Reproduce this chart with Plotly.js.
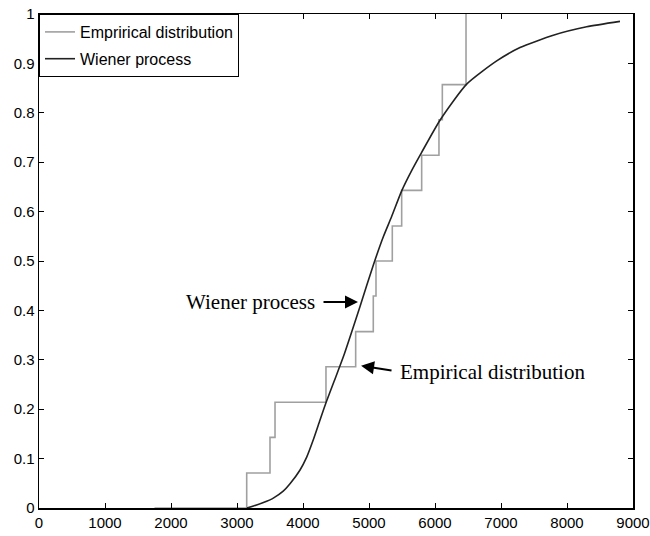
<!DOCTYPE html>
<html>
<head>
<meta charset="utf-8">
<script src="https://cdn.plot.ly/plotly-3.0.1.min.js"></script>
<style>html,body{margin:0;padding:0;background:#fff;}#chart{width:650px;height:536px;}</style>
</head>
<body>
<div id="chart"></div>
<script>
var empX = [1750, 3147, 3500, 3576, 4348, 4798, 5065, 5106, 5353, 5495, 5798, 6060, 6111, 6470];
var empY = [0, 0.071, 0.143, 0.214, 0.286, 0.357, 0.429, 0.5, 0.571, 0.643, 0.714, 0.786, 0.857, 1.0];
var wienerX = [3150, 3250, 3400, 3550, 3700, 3803, 3955, 4056, 4156, 4258, 4348, 4470, 4611, 4864, 5066, 5217, 5343, 5495, 5650, 5798, 6076, 6480, 6935, 7288, 7792, 8298, 8803];
var wienerY = [0, 0.004, 0.011, 0.02, 0.034, 0.049, 0.077, 0.103, 0.138, 0.178, 0.213, 0.256, 0.306, 0.408, 0.492, 0.549, 0.59, 0.642, 0.684, 0.72, 0.785, 0.858, 0.905, 0.932, 0.957, 0.974, 0.985];
var xTicks = [0, 1000, 2000, 3000, 4000, 5000, 6000, 7000, 8000, 9000];
var yTicks = [0, 0.1, 0.2, 0.3, 0.4, 0.5, 0.6, 0.7, 0.8, 0.9, 1];
var yTickText = ["0", "0.1", "0.2", "0.3", "0.4", "0.5", "0.6", "0.7", "0.8", "0.9", "1"];

var traces = [
  {x: empX, y: empY, mode: 'lines', line: {shape: 'hv', color: '#a0a0a0', width: 1.6}, name: 'Emprirical distribution', legendgroup: 'a'},
  {x: wienerX, y: wienerY, mode: 'lines', line: {shape: 'spline', smoothing: 0.6, color: '#222222', width: 1.6}, name: 'Wiener process', legendgroup: 'b'}
];
var axisCommon = {showgrid: false, zeroline: false, showline: true, linecolor: '#000', linewidth: 1.5, mirror: 'ticks', ticks: 'inside', ticklen: 5, tickcolor: '#000', tickfont: {family: 'Liberation Sans, Arial', size: 15, color: '#000'}};
var layout = {
  width: 650, height: 536,
  margin: {l: 39, r: 17, t: 14, b: 28},
  paper_bgcolor: '#fff', plot_bgcolor: '#fff',
  showlegend: true,
  legend: {x: 0, y: 1, xanchor: 'left', yanchor: 'top', bgcolor: '#fff', bordercolor: '#000', borderwidth: 1, font: {family: 'Liberation Sans, Arial', size: 16, color: '#000'}, tracegroupgap: 3},
  xaxis: Object.assign({}, axisCommon, {range: [0, 9000], tickvals: xTicks, ticktext: xTicks.map(String)}),
  yaxis: Object.assign({}, axisCommon, {range: [0, 1], tickvals: yTicks, ticktext: yTickText}),
  annotations: [
    {x: 4833, y: 0.417, ax: 4288, ay: 0.417, xref: 'x', yref: 'y', axref: 'x', ayref: 'y', showarrow: true, arrowhead: 2, arrowsize: 1.3, arrowwidth: 2, arrowcolor: '#000', text: ''},
    {x: 4212, y: 0.417, xref: 'x', yref: 'y', xanchor: 'right', yanchor: 'middle', showarrow: false, text: 'Wiener process', font: {family: 'Liberation Serif, Times New Roman', size: 21, color: '#000'}},
    {x: 4880, y: 0.288, ax: 5364, ay: 0.278, xref: 'x', yref: 'y', axref: 'x', ayref: 'y', showarrow: true, arrowhead: 2, arrowsize: 1.3, arrowwidth: 2, arrowcolor: '#000', text: ''},
    {x: 5439, y: 0.275, xref: 'x', yref: 'y', xanchor: 'left', yanchor: 'middle', showarrow: false, text: 'Empirical distribution', font: {family: 'Liberation Serif, Times New Roman', size: 21, color: '#000'}}
  ]
};
Plotly.newPlot('chart', traces, layout, {displayModeBar: false, staticPlot: true});
</script>
</body>
</html>
